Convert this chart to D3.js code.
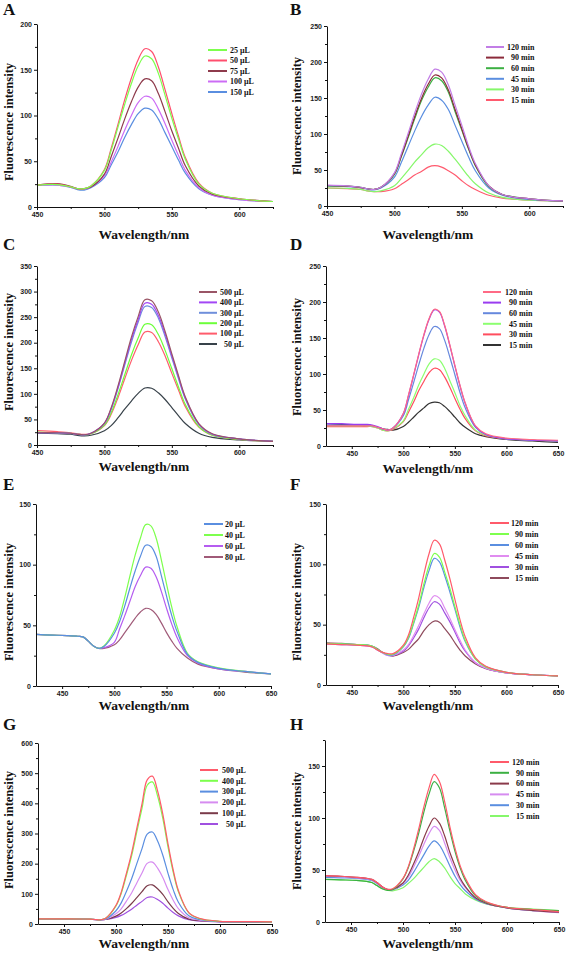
<!DOCTYPE html>
<html><head><meta charset="utf-8">
<script src="https://cdn.jsdelivr.net/npm/d3@7/dist/d3.min.js"></script>
<style>
html,body{margin:0;padding:0;background:#fff;}
svg{display:block;}
.tick text{font-family:"Liberation Sans",Arial,sans-serif;font-weight:bold;font-size:7px;fill:#222;}
.domain,.tick line{stroke:#111;stroke-width:1;}
</style>
</head><body>
<svg id="chart" width="567" height="957"></svg>
<script>
// wavelength grids (nm)
const wlABC = [450,465,475,480,485,490,500,505,510,515,520,525,530,535,540,545,550,555,560,570,580,600,625];
const wlDH  = [425,440,455,465,470,475,480,485,490,500,505,510,515,520,525,530,535,540,545,550,555,560,570,580,600,625,650];

// Panel A (volume)
const A_labels = ["25 µL","50 µL","75 µL","100 µL","150 µL"];
const A_25  = [24,24.5,22,20,20,23,40,62,87,112,135,154,165,162,146,122,97,74,52,25,15,9,6];
const A_50  = [24,25,22,20,20,23,41,64,90,117,141,161,173,170,153,128,102,77,54,26,15,9,6];
const A_75  = [24,25.5,22.5,20,20,22,36,55,75,96,115,131,140,138,124,104,83,64,45,23,14,9,6];
const A_100 = [23.5,24,22,20,19.5,22,34,49,66,84,100,114,121,119,107,91,73,56,40,21,13,8,6];
const A_150 = [23.5,24,21.5,19,18.5,21,32,46,60,76,90,102,108,106,96,81,66,51,37,20,13,8,6];

// Panel B (time)
const B_labels = ["120 min","90 min","60 min","45 min","30 min","15 min"];
const B_120 = [29,28,26,24,23,26,46,72,100,129,155,176,190,186,168,140,112,83,59,28,16,10,7];
const B_90  = [28.5,27.5,25.5,24,23,26,45,69,96,124,149,169,182,178,161,134,107,80,57,28,16,10,7];
const B_60  = [28,27.5,26,24,23,26,44,68,94,121,146,165,178,174,158,131,105,79,56,27,16,10,7];
const B_45  = [28,27,25.5,23.5,22.5,25,40,60,82,104,124,140,151,147,134,112,90,68,49,25,15,9,7];
const B_30  = [25,24.5,23,21,20,21,28,38,49,61,71,81,86,84,76,65,53,41,31,18,12,8,7];
const B_15  = [25,24,23,21,20,20,24,30,36,43,48,54,56,54,49,43,35,28,23,15,11,8,7];

// Panel C (volume)
const C_labels = ["500 µL","400 µL","300 µL","200 µL","100 µL","50 µL"];
const C_500 = [24,24,23,21,20,23,43,73,115,163,211,251,284,282,260,222,178,135,94,42,22,12,7];
const C_400 = [24,24,23,21,20,23,43,71,112,159,206,245,277,275,253,217,174,132,92,41,21,12,7];
const C_300 = [24,23.5,22.5,20.5,19.5,23,42,70,110,156,201,240,271,269,248,212,170,129,90,40,21,12,7];
const C_200 = [25,24,23,21,20,22,39,63,98,137,176,209,236,235,216,185,149,113,79,36,19,11,7];
const C_100 = [28,26,24,22,21,22,38,60,92,129,165,196,221,220,202,174,140,107,75,35,19,11,7];
const C_50  = [23,22,21,19,18,19,28,38,53,70,86,101,111.5,111,102,89,73,57,42,23,15,10,7];

// Panel D (time)
const D_labels = ["120 min","90 min","60 min","45 min","30 min","15 min"];
const D_120 = [28,28,28,28,28,26,24,22,25,45,71,99,128,155,177,190,187,168,141,112,84,60,28,17,11,9,8];
const D_90  = [31,31,30,30,29,27,24,22,25,45,70,98,127,154,176,189,186,167,140,111,83,59,27,16,10,8,7];
const D_60  = [29,29,29,29,28,26,23.5,22,25,42,64,88,113,136,155,166,163,147,124,99,74,53,26,16,10,8,7];
const D_45  = [28,28,28,28,27,25,22,21,24,35,51,67,85,100,114,121,119,108,91,74,56,42,22,15,10,8,7];
const D_30  = [27,27,27,27,27,25,22,21,23,34,47,61,77,90,102,108,106,96,82,66,51,38,21,14,10,8,7];
const D_15  = [31,30,29,29,28,26,24,23,22,27,33,40,47,53,59,61,60,55,48,40,32,26,17,13,9,7,5];

// Panel E (volume)
const E_labels = ["20 µL","40 µL","60 µL","80 µL"];
const E_20 = [42.5,42,41.5,41,40.5,37,33,31,32.5,43.5,53,66,81,95,107,116,115,107,91,74,58,45,26,19.5,14.5,12,10];
const E_40 = [42.5,42,41.5,41,40.5,37,33,31,33,46,57,73,91,108,122,133,132,122,104,84,65,49,27,20,15,12,10];
const E_60 = [42.5,42,41.5,41,40.5,37,33,31,31.5,36,47,58,70,82,91,98,97,90,78,64,51,40,25,19,14,12,10];
const E_80 = [42.5,42,41.5,41,40.5,37,33,31,31,34,38,44,50,56,61,64,63,59,52,44,37,31,23,18,14,11.5,10];

// Panel F (time)
const F_labels = ["120 min","90 min","60 min","45 min","30 min","15 min"];
const F_120 = [34,33.5,33,32.5,31.5,29,27,26,26,33,41.5,56,72.5,92,109,120,117,104,88.5,71,54,40,22.5,15.5,10.5,8.5,7.5];
const F_90  = [34.5,34,33.5,33,32,29.5,27,25.5,25.5,32,39.5,52,66.5,84,99,109,106,94,80.5,65,50,37,21.5,15,10.5,8.5,7.5];
const F_60  = [34.5,34,33.5,33,32,29.5,27,25,25,31.6,38.5,51,64.5,81,95,105,102,91,77.5,63,48,36,21.5,15,10.5,8.5,7.5];
const F_45  = [34,33.5,33,32.5,31.5,29,26.5,24.5,24.5,29,33.5,41,49.5,59,68,74,72,64,55.5,46,37,29,18.5,14,10,8.5,7.5];
const F_30  = [34,33.5,33,32.5,31.5,29,26.5,24.5,24.5,28,32.5,39,46.5,56,64,69,67,60,52.5,44,35,28,18.5,14,10,8.5,7.5];
const F_15  = [35,34.5,33.5,33,32,30,27,25,24,27,29.5,34,38.5,45,50,53,52,47,41.5,35,29,24,17.5,13.5,10,8.5,7.5];

// Panel G (volume)
const G_labels = ["500 µL","400 µL","300 µL","200 µL","100 µL","50 µL"];
const G_500 = [17,17,17,16.5,16.5,16,15,14,19,62,105,168,235,317,398,478,490,441,364,266,179,111,38,19,9,8,7];
const G_400 = [17,17,17,16.5,16.5,16,15,14,19,60,101,161,226,305,383,460,471,424,350,256,172,107,37,18,9,8,7];
const G_300 = [17,17,17,16.5,16.5,16,15,14,17,44,70,108,150,200,250,298,305,275,228,168,114,72,27,15,8,7,6];
const G_200 = [17,17,17,16.5,16.5,16,15,14,16,34,50.5,76,103,136,169,201,205,185,154,114,79,51,21,13,8,7,6];
const G_100 = [16,16,16,16,16,15.5,14.5,14,15,26,36.5,51,68,87.5,107,127,129.5,117,98,73.5,52,35,16,11,8,6,5];
const G_50  = [16,16,16,16,16,15.5,14.5,14,15,22,28.5,38,49,62.5,75,88,89.5,81,69,52.5,38,27,14,10,7,6,5];

// Panel H (time)
const H_labels = ["120 min","90 min","60 min","45 min","30 min","15 min"];
const H_120 = [44.5,44,43,42,41,38,34,31.5,32,42,53,69.5,89,110.5,129,142,135,116,92,71,54,42,26,19.5,14,12,10];
const H_90  = [41,40.5,40,39,38,35,32,30.5,31,41.5,52,67.5,85,105.5,123,135,129,110,88,68,52,40,25,19,14,12,11];
const H_60  = [44.5,44,43,42,41,38,34,31.5,31.5,37.5,45,55.5,67,80.5,92,100,95,83,67,54,42,34,23,18,13.5,11,9.5];
const H_45  = [44,43.5,42.5,41.5,40.5,37.5,33.5,31,31,37,43,52.5,63,74.5,85,92,88,76,62,50,40,33,23,18,13.5,11,9];
const H_30  = [43,42.5,42,41,40,37,33,31,31,35.5,40,47.5,56,64.5,73,78,74,65,54,44,36,30,22,17.5,13.5,11,10];
const H_15  = [41,40.5,40,39,38,35,32,30.5,30,33,37,41.5,47,52.5,58,61,58,52,44,37,32,27,21,17.5,14,12.5,11];

// axis tick values
const xTicksABC = [450,500,550,600];
const xTicksDH  = [450,500,550,600,650];

const SERIF = '"Liberation Serif","Times New Roman",serif';

const panels = [
  {id:"A", L:37,R:273,T:24,B:207, xd:[450,625], xt:xTicksABC, ymax:200, ystep:50,
   lx:3, ly:15, ylx:13, ylc:122, xlc:144, xlb:239,
   leg:{x1:208,x2:227,tx:230,y0:50,dy:10.5,right:false},
   labels:A_labels, data:[A_25,A_50,A_75,A_100,A_150], wl:wlABC,
   colors:["#7dff4d","#ff4f6e","#8e3b4c","#cc6cf5","#5a8ee0"]},
  {id:"B", L:327,R:563,T:26,B:206, xd:[450,625], xt:xTicksABC, ymax:250, ystep:50,
   lx:290, ly:15, ylx:301, ylc:116, xlc:428, xlb:239,
   leg:{x1:486,x2:504,tx:507,y0:47,dy:10.6,right:true},
   labels:B_labels, data:[B_120,B_90,B_60,B_45,B_30,B_15], wl:wlABC,
   colors:["#c27ee6","#8b2a3a","#3cb043","#5a8ee0","#86f76b","#ff5a6e"]},
  {id:"C", L:37,R:273,T:266,B:445, xd:[450,625], xt:xTicksABC, ymax:350, ystep:50,
   lx:3, ly:250, ylx:13, ylc:352, xlc:144, xlb:471,
   leg:{x1:199,x2:217,tx:220,y0:292,dy:10.4,right:true},
   labels:C_labels, data:[C_500,C_400,C_300,C_200,C_100,C_50], wl:wlABC,
   colors:["#9a5566","#a347f5","#6f8fdb","#6cff3a","#ff5c6c","#38424a"]},
  {id:"D", L:326,R:558,T:266,B:446, xd:[425,650], xt:xTicksDH, ymax:250, ystep:50,
   lx:290, ly:250, ylx:301, ylc:357, xlc:428, xlb:473,
   leg:{x1:483,x2:501,tx:505,y0:292,dy:10.6,right:true},
   labels:D_labels, data:[D_120,D_90,D_60,D_45,D_30,D_15], wl:wlDH,
   colors:["#ff6a85","#9a3cf0","#6688dd","#8cff70","#ff4d5e","#333333"]},
  {id:"E", L:36,R:271,T:504,B:686, xd:[425,650], xt:xTicksDH, ymax:150, ystep:50,
   lx:3, ly:490, ylx:13, ylc:602, xlc:144, xlb:710,
   leg:{x1:204,x2:223,tx:225,y0:524,dy:11,right:true},
   labels:E_labels, data:[E_20,E_40,E_60,E_80], wl:wlDH,
   colors:["#5a8ee0","#7dff4d","#b55cf0","#a05a78"]},
  {id:"F", L:326,R:558,T:504,B:685, xd:[425,650], xt:xTicksDH, ymax:150, ystep:50,
   lx:290, ly:490, ylx:301, ylc:602, xlc:428, xlb:710,
   leg:{x1:490,x2:509,tx:511,y0:523,dy:11,right:true},
   labels:F_labels, data:[F_120,F_90,F_60,F_45,F_30,F_15], wl:wlDH,
   colors:["#ff5a6a","#7dff4d","#5a8ee0","#e08cf0","#a050e0","#8e4a5c"]},
  {id:"G", L:38,R:272,T:743,B:924, xd:[425,650], xt:xTicksDH, ymax:600, ystep:100,
   lx:3, ly:730, ylx:13, ylc:830, xlc:144, xlb:948,
   leg:{x1:200,x2:218,tx:222,y0:770,dy:10.8,right:true},
   labels:G_labels, data:[G_500,G_400,G_300,G_200,G_100,G_50], wl:wlDH,
   colors:["#ff5a6a","#7dff4d","#5a8ee0","#d68cf0","#7a3a4a","#a050e0"]},
  {id:"H", L:325,R:559,T:740,B:922, xd:[425,650], xt:xTicksDH, ymax:175, ystep:50, ytickmax:150,
   lx:290, ly:730, ylx:301, ylc:831, xlc:428, xlb:948,
   leg:{x1:490,x2:509,tx:512,y0:762,dy:10.8,right:true},
   labels:H_labels, data:[H_120,H_90,H_60,H_45,H_30,H_15], wl:wlDH,
   colors:["#ff5a6a","#3cb043","#8a3a4a","#d68cf0","#5a8ee0","#86f76b"]}
];

const svg = d3.select("#chart");
svg.append("rect").attr("width",567).attr("height",957).attr("fill","#fff");

panels.forEach(p => {
  const g = svg.append("g");
  const x = d3.scaleLinear().domain(p.xd).range([p.L, p.R]);
  const y = d3.scaleLinear().domain([0, p.ymax]).range([p.B, p.T]);

  // curves (draw reversed so the first legend entry is on top)
  const line = d3.line().x(d => x(d[0])).y(d => y(d[1])).curve(d3.curveCatmullRom.alpha(0.5));
  p.data.slice().reverse().forEach((vals, ri) => {
    const i = p.data.length - 1 - ri;
    g.append("path")
      .attr("d", line(p.wl.map((w, k) => [w, vals[k]])))
      .attr("fill","none").attr("stroke", p.colors[i]).attr("stroke-width",1.2);
  });

  // axes
  const xMajor = p.xt;
  const xMinor = d3.range(p.xd[0], p.xd[1] + 0.1, 25).filter(v => !xMajor.includes(v) && v > p.xd[0]);
  const ytop = p.ytickmax || p.ymax;
  const yMajor = d3.range(0, ytop + 0.1, p.ystep);
  const yMinor = d3.range(p.ystep/2, p.ymax + 0.1, p.ystep).filter(v => v <= p.ymax);

  g.append("g").attr("transform",`translate(0,${p.B})`)
    .call(d3.axisBottom(x).tickValues(xMinor).tickSize(2).tickSizeOuter(0).tickFormat(""))
    .call(s => s.select(".domain").remove());
  g.append("g").attr("transform",`translate(0,${p.B})`)
    .call(d3.axisBottom(x).tickValues(xMajor).tickSize(3).tickSizeOuter(0).tickPadding(2).tickFormat(d3.format("d")));
  g.append("g").attr("transform",`translate(${p.L},0)`)
    .call(d3.axisLeft(y).tickValues(yMinor).tickSize(2).tickSizeOuter(0).tickFormat(""))
    .call(s => s.select(".domain").remove());
  g.append("g").attr("transform",`translate(${p.L},0)`)
    .call(d3.axisLeft(y).tickValues(yMajor).tickSize(3).tickSizeOuter(0).tickPadding(2).tickFormat(d3.format("d")));

  // panel letter
  g.append("text").attr("x",p.lx).attr("y",p.ly).text(p.id)
    .attr("font-family",SERIF).attr("font-weight","bold").attr("font-size",17).attr("fill","#111");
  // axis titles
  g.append("text").attr("transform",`translate(${p.ylx},${p.ylc}) rotate(-90)`)
    .attr("text-anchor","middle").text("Fluorescence intensity")
    .attr("font-family",SERIF).attr("font-weight","bold").attr("font-size",12.5).attr("fill","#111");
  g.append("text").attr("x",p.xlc).attr("y",p.xlb).attr("text-anchor","middle").text("Wavelength/nm")
    .attr("font-family",SERIF).attr("font-weight","bold").attr("font-size",13.5).attr("fill","#111");

  // legend
  const maxDigits = d3.max(p.labels, s => s.split(" ")[0].length);
  p.labels.forEach((lab, i) => {
    const yy = p.leg.y0 + i * p.leg.dy;
    g.append("line").attr("x1",p.leg.x1).attr("x2",p.leg.x2).attr("y1",yy).attr("y2",yy)
      .attr("stroke",p.colors[i]).attr("stroke-width",2);
    const digits = lab.split(" ")[0].length;
    const off = p.leg.right ? (maxDigits - digits) * 4 : 0;
    g.append("text").attr("x",p.leg.tx + off).attr("y",yy + 2.8).text(lab)
      .attr("font-family",SERIF).attr("font-weight","bold").attr("font-size",8).attr("fill","#111");
  });
});
</script>
</body></html>
